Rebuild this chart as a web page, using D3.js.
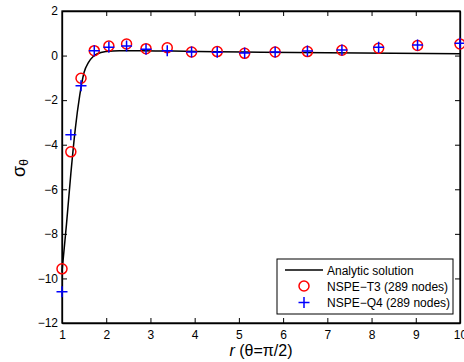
<!DOCTYPE html>
<html>
<head>
<meta charset="utf-8">
<script src="https://cdn.jsdelivr.net/npm/d3@7"></script>
<style>
  body { margin: 0; background: #fff; }
  svg { font-family: Helvetica, Arial, "Liberation Sans", sans-serif; }
</style>
</head>
<body>
<div id="chart"></div>
<script>
// analytic curve
const analyticR   = [1.0, 1.1, 1.2, 1.3, 1.4, 1.5, 1.6, 1.7, 1.8, 2.0, 2.3, 2.8, 3.5, 4.5, 5.5, 7.0, 8.5, 10];
const analyticSig = [-9.7, -7.6, -5.3, -3.3, -1.8, -0.75, -0.3, -0.05, 0.08, 0.18, 0.22, 0.22, 0.2, 0.17, 0.15, 0.13, 0.1, 0.08];

// node positions along theta = pi/2
const nodeR = [1.0, 1.2, 1.43, 1.73, 2.06, 2.46, 2.9, 3.38, 3.93, 4.51, 5.13, 5.82, 6.55, 7.33, 8.16, 9.04, 10];
const t3Sig = [-9.57, -4.32, -1.02, 0.22, 0.43, 0.52, 0.31, 0.35, 0.16, 0.18, 0.1, 0.16, 0.18, 0.24, 0.33, 0.45, 0.52];
const q4Sig = [-10.6, -3.55, -1.35, 0.22, 0.37, 0.43, 0.28, 0.22, 0.16, 0.15, 0.12, 0.16, 0.2, 0.25, 0.37, 0.47, 0.55];

const xTicks = [1, 2, 3, 4, 5, 6, 7, 8, 9, 10];
const yTicks = [-12, -10, -8, -6, -4, -2, 0, 2];
const legendLabels = ['Analytic solution', 'NSPE\u2212T3 (289 nodes)', 'NSPE\u2212Q4 (289 nodes)'];

const W = 464, H = 362;
const pLeft = 62, pRight = 460, pTop = 11, pBottom = 323;

const svg = d3.select('#chart').append('svg')
    .attr('width', W)
    .attr('height', H);

const x = d3.scaleLinear().domain([1, 10]).range([pLeft, pRight]);
const y = d3.scaleLinear().domain([-12, 2]).range([pBottom, pTop]);

const fmt = d => d < 0 ? '\u2212' + Math.abs(d) : String(d);

// axes with inward ticks, mirrored on top/right
const tickLen = 5;
svg.append('g')
    .attr('transform', `translate(0,${pBottom})`)
    .call(d3.axisBottom(x).tickValues(xTicks).tickSizeInner(-tickLen).tickSizeOuter(0).tickPadding(7).tickFormat(fmt));
svg.append('g')
    .attr('transform', `translate(0,${pTop})`)
    .call(d3.axisTop(x).tickValues(xTicks).tickSizeInner(-tickLen).tickSizeOuter(0).tickFormat(''));
svg.append('g')
    .attr('transform', `translate(${pLeft},0)`)
    .call(d3.axisLeft(y).tickValues(yTicks).tickSizeInner(-tickLen).tickSizeOuter(0).tickPadding(4).tickFormat(fmt));
svg.append('g')
    .attr('transform', `translate(${pRight},0)`)
    .call(d3.axisRight(y).tickValues(yTicks).tickSizeInner(-tickLen).tickSizeOuter(0).tickFormat(''));

svg.selectAll('.domain').attr('stroke', '#000').attr('stroke-width', 1.3);
svg.selectAll('.tick line').attr('stroke', '#000');
svg.selectAll('.tick text').attr('font-size', 12).attr('fill', '#000');

// frame
svg.append('rect')
    .attr('x', pLeft).attr('y', pTop)
    .attr('width', pRight - pLeft).attr('height', pBottom - pTop)
    .attr('fill', 'none').attr('stroke', '#000').attr('stroke-width', 1.3);

// analytic line
const line = d3.line()
    .x((d, i) => x(analyticR[i]))
    .y(d => y(d))
    .curve(d3.curveMonotoneX);

svg.append('path')
    .datum(analyticSig)
    .attr('d', line)
    .attr('fill', 'none')
    .attr('stroke', '#000')
    .attr('stroke-width', 1.5);

// T3 circles
svg.append('g').selectAll('circle')
    .data(t3Sig)
    .join('circle')
    .attr('cx', (d, i) => x(nodeR[i]))
    .attr('cy', d => y(d))
    .attr('r', 5)
    .attr('fill', 'none')
    .attr('stroke', '#ff0000')
    .attr('stroke-width', 1.5);

// Q4 plus markers
function plusPath(cx, cy, s) {
    return `M${cx - s},${cy}H${cx + s}M${cx},${cy - s}V${cy + s}`;
}
svg.append('g').selectAll('path')
    .data(q4Sig)
    .join('path')
    .attr('d', (d, i) => plusPath(x(nodeR[i]), y(d), 5.5))
    .attr('fill', 'none')
    .attr('stroke', '#0000ff')
    .attr('stroke-width', 1.5);

// axis labels
svg.append('text')
    .attr('transform', 'translate(25,168) rotate(-90)')
    .attr('text-anchor', 'middle')
    .attr('font-size', 18)
    .text('\u03c3')
    .append('tspan')
    .attr('font-size', 12)
    .attr('dy', 3)
    .text('\u03b8');

const xl = svg.append('text')
    .attr('x', 261).attr('y', 356)
    .attr('text-anchor', 'middle')
    .attr('font-size', 16);
xl.append('tspan').attr('font-style', 'italic').text('r');
xl.append('tspan').text(' (\u03b8=\u03c0/2)');

// legend
const lg = svg.append('g');
lg.append('rect')
    .attr('x', 277).attr('y', 259)
    .attr('width', 176).attr('height', 55)
    .attr('fill', '#fff').attr('stroke', '#000').attr('stroke-width', 1);

const rowY = [270, 286, 302.5];
lg.append('line')
    .attr('x1', 285).attr('x2', 323)
    .attr('y1', rowY[0]).attr('y2', rowY[0])
    .attr('stroke', '#000').attr('stroke-width', 1.5);
lg.append('circle')
    .attr('cx', 304).attr('cy', rowY[1]).attr('r', 5)
    .attr('fill', 'none').attr('stroke', '#ff0000').attr('stroke-width', 1.5);
lg.append('path')
    .attr('d', plusPath(304, rowY[2], 5.5))
    .attr('stroke', '#0000ff').attr('stroke-width', 1.5);

lg.selectAll('text.lbl')
    .data(legendLabels)
    .join('text')
    .attr('class', 'lbl')
    .attr('x', 327)
    .attr('y', (d, i) => rowY[i] + 4.5)
    .attr('font-size', 12)
    .text(d => d);
</script>
</body>
</html>
